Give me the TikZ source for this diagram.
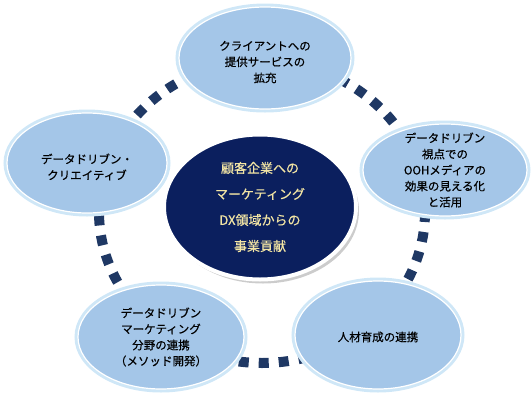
\documentclass[tikz,border=0pt]{standalone}
\usepackage{fontspec}
\setmainfont{Noto Sans CJK JP}
\newfontfamily\petalfont[FakeBold=0.5]{Noto Sans CJK JP}
\usepackage{xcolor}
\usetikzlibrary{shapes.geometric,shadows}

\definecolor{ringblue}{HTML}{1F3864}
\definecolor{corenavy}{HTML}{0B1F5E}
\definecolor{coretext}{HTML}{F2E4A4}
\definecolor{petalfill}{HTML}{A4C6E8}
\definecolor{petalglow}{HTML}{CFE7F7}

\begin{document}
\begin{tikzpicture}[
	x=1pt,y=-1pt,
	petal/.style={
		ellipse,
		draw=white,
		line width=1.2pt,
		fill=petalfill,
		inner sep=0pt,
		preaction={draw=petalglow, line width=7pt}
	},
	petaltext/.style={
		align=center,
		inner sep=0pt,
		text=black,
		font=\petalfont\fontsize{11.5}{16}\selectfont
	},
	core/.style={
		ellipse,
		draw=white,
		line width=4pt,
		fill=corenavy,
		text=coretext,
		align=center,
		font=\petalfont\fontsize{13}{26}\selectfont,
		drop shadow={opacity=0.4, shadow xshift=3pt, shadow yshift=-4pt}
	},
	ringdash/.style={
		draw=ringblue,
		line width=10pt,
		dash pattern=on 10pt off 10pt
	}
	]
	
	\useasboundingbox (0,0) rectangle (531,400);
	
	% dashed ring behind everything
	\coordinate (ring) at (262,212);
	\draw[ringdash] (ring) ellipse [x radius=163, y radius=151];
	
	% centre
	\node[core, minimum width=192, minimum height=145] (business) at (260,207)
	{顧客企業への\\マーケティング\\DX領域からの\\事業貢献};
	
	% outer petals
	\node[petal, minimum width=172, minimum height=102] (client) at (265,58) {};
	\node[petaltext] (client_text) at ([yshift=-4pt]client.center)
	{クライアントへの\\提供サービスの\\拡充};
	
	\node[petal, minimum width=160, minimum height=100] (creative) at (87,163) {};
	\node[petaltext] (creative_text) at ([yshift=-4pt]creative.center)
	{データドリブン・\\クリエイティブ};
	
	\node[petal, minimum width=164, minimum height=92] (ooh) at (445,170) {};
	\node[petaltext] (ooh_text) at (ooh.center)
	{データドリブン\\視点での\\OOHメディアの\\効果の見える化\\と活用};
	
	\node[petal, minimum width=166, minimum height=104] (method) at (161,337) {};
	\node[petaltext] (method_text) at (method.center)
	{データドリブン\\マーケティング\\分野の連携\\（メソッド開発）};
	
	\node[petal, minimum width=166, minimum height=108] (talent) at (378,335) {};
	\node[petaltext] (talent_text) at ([yshift=-2pt]talent.center)
	{人材育成の連携};
	
\end{tikzpicture}
\end{document}
